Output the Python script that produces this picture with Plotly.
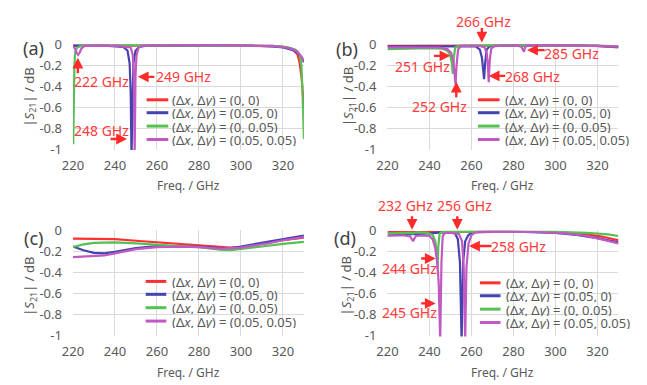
import plotly.graph_objects as go

W, H = 647, 385
FONT = "Noto Sans"
RED_TXT = "#ff3b3b"
GRAY = "#595959"

COLORS = ["#ff3030", "#4444b0", "#55c055", "#c258c2"]
SERIES = ["(Δ<i>x</i>, Δ<i>y</i>) = (0, 0)",
          "(Δ<i>x</i>, Δ<i>y</i>) = (0.05, 0)",
          "(Δ<i>x</i>, Δ<i>y</i>) = (0, 0.05)",
          "(Δ<i>x</i>, Δ<i>y</i>) = (0.05, 0.05)"]

X_TICKS = [220, 240, 260, 280, 300, 320]
Y_TICKS = [0, -0.2, -0.4, -0.6, -0.8, -1]
Y_TICK_TEXT = ["0", "-0.2", "-0.4", "-0.6", "-0.8", "-1"]
PANEL_LABELS = ["(a)", "(b)", "(c)", "(d)"]

# ---------------- panel (a) ----------------
A_RED_F = [220, 240, 260, 280, 300, 312, 318, 322, 325, 327, 328, 329, 330]
A_RED_V = [-0.015, -0.012, -0.01, -0.01, -0.012, -0.015, -0.02, -0.03, -0.05, -0.1, -0.18, -0.34, -0.6]
A_BLUE_F = [220, 235, 244, 246, 247, 247.5, 247.9, 248.3, 248.8, 249.8, 251.5, 255, 280, 305, 315, 320, 324, 327, 329, 330]
A_BLUE_V = [-0.012, -0.012, -0.025, -0.06, -0.18, -0.45, -1.05, -0.45, -0.18, -0.06, -0.025, -0.012, -0.01, -0.012, -0.02, -0.03, -0.05, -0.08, -0.13, -0.17]
A_GREEN_F = [220.15, 220.4, 220.7, 221.1, 222, 224, 240, 270, 300, 315, 322, 326, 328, 328.8, 329.3, 329.7, 330]
A_GREEN_V = [-0.95, -0.5, -0.2, -0.07, -0.03, -0.015, -0.01, -0.01, -0.01, -0.015, -0.025, -0.05, -0.1, -0.2, -0.45, -0.75, -0.9]
A_PURPLE_F = [220, 221, 221.8, 222.5, 223.2, 224, 225.5, 240, 247.5, 248.5, 249.0, 249.4, 249.8, 250.3, 251.3, 253, 280, 305, 315, 320, 324, 327, 329, 330]
A_PURPLE_V = [-0.02, -0.04, -0.08, -0.1, -0.08, -0.04, -0.015, -0.012, -0.03, -0.1, -0.3, -1.05, -0.3, -0.1, -0.03, -0.012, -0.008, -0.01, -0.015, -0.025, -0.04, -0.07, -0.12, -0.16]

# ---------------- panel (b) ----------------
B_RED_F = [220, 250, 280, 310, 320, 326, 330]
B_RED_V = [-0.015, -0.012, -0.01, -0.01, -0.015, -0.02, -0.03]
B_BLUE_F = [220, 240, 255, 262, 264, 265, 265.6, 266.0, 266.5, 267.2, 268.5, 275, 300, 320, 330]
B_BLUE_V = [-0.02, -0.018, -0.015, -0.02, -0.05, -0.13, -0.25, -0.33, -0.18, -0.05, -0.02, -0.012, -0.01, -0.015, -0.025]
B_GREEN_F = [220, 230, 240, 246, 248.5, 249.8, 250.6, 251.1, 251.6, 252.3, 254, 270, 300, 320, 330]
B_GREEN_V = [-0.045, -0.04, -0.035, -0.04, -0.06, -0.1, -0.17, -0.28, -0.12, -0.03, -0.012, -0.01, -0.01, -0.012, -0.02]
B_PURPLE_F = [220, 235, 245, 248.5, 250.3, 251.4, 252.0, 252.4, 252.9, 253.6, 255, 264, 266.3, 267.3, 267.8, 268.2, 268.7, 269.4, 271, 282, 283.8, 284.6, 285.0, 285.5, 286.5, 300, 320, 330]
B_PURPLE_V = [-0.028, -0.026, -0.03, -0.045, -0.08, -0.16, -0.27, -0.38, -0.2, -0.05, -0.015, -0.015, -0.03, -0.09, -0.2, -0.36, -0.15, -0.04, -0.015, -0.01, -0.025, -0.06, -0.07, -0.03, -0.01, -0.01, -0.012, -0.02]

# ---------------- panel (c) ----------------
C_RED_F = [220, 230, 240, 250, 260, 270, 280, 290, 295, 300, 310, 320, 330]
C_RED_V = [-0.075, -0.075, -0.08, -0.095, -0.11, -0.125, -0.14, -0.155, -0.16, -0.155, -0.12, -0.09, -0.065]
C_BLUE_F = [220, 225, 230, 235, 240, 250, 260, 270, 280, 290, 295, 300, 310, 320, 330]
C_BLUE_V = [-0.15, -0.185, -0.21, -0.215, -0.2, -0.165, -0.145, -0.145, -0.15, -0.165, -0.165, -0.15, -0.115, -0.08, -0.045]
C_GREEN_F = [220, 225, 230, 240, 250, 260, 270, 280, 290, 295, 300, 310, 320, 330]
C_GREEN_V = [-0.155, -0.13, -0.115, -0.11, -0.12, -0.135, -0.145, -0.155, -0.18, -0.185, -0.175, -0.15, -0.125, -0.105]
C_PURPLE_F = [220, 225, 230, 235, 240, 250, 260, 270, 280, 290, 300, 308, 311, 313, 320, 330]
C_PURPLE_V = [-0.25, -0.245, -0.24, -0.235, -0.215, -0.175, -0.155, -0.15, -0.155, -0.17, -0.16, -0.13, -0.125, -0.12, -0.09, -0.06]

# ---------------- panel (d) ----------------
D_RED_F = [220, 250, 280, 295, 305, 315, 322, 330]
D_RED_V = [-0.012, -0.01, -0.01, -0.012, -0.02, -0.035, -0.055, -0.09]
D_BLUE_F = [220, 230, 240, 246, 250, 252, 253.5, 254.5, 255.3, 256.0, 257.0, 258.5, 260.5, 265, 285, 300, 310, 320, 330]
D_BLUE_V = [-0.045, -0.038, -0.025, -0.015, -0.015, -0.02, -0.08, -0.3, -1.05, -0.3, -0.1, -0.04, -0.015, -0.01, -0.012, -0.02, -0.04, -0.07, -0.11]
D_GREEN_F = [220, 230, 231.4, 232, 232.6, 234, 239, 241.5, 242.8, 243.4, 243.8, 244.2, 244.8, 246, 260, 300, 315, 325, 330]
D_GREEN_V = [-0.025, -0.02, -0.02, -0.03, -0.02, -0.015, -0.02, -0.04, -0.1, -0.2, -0.36, -0.15, -0.03, -0.01, -0.008, -0.01, -0.02, -0.035, -0.05]
D_PURPLE_F = [220, 228, 230.8, 231.6, 232.2, 232.8, 233.6, 236, 240, 241.5, 242.7, 243.7, 244.4, 245.1, 245.7, 246.3, 247.5, 250, 254, 255.5, 256.3, 257.0, 257.6, 258.6, 260, 262, 270, 290, 305, 315, 322, 330]
D_PURPLE_V = [-0.045, -0.045, -0.055, -0.08, -0.1, -0.075, -0.05, -0.045, -0.05, -0.08, -0.16, -0.3, -0.5, -1.05, -0.3, -0.05, -0.02, -0.02, -0.03, -0.1, -0.35, -1.05, -0.35, -0.12, -0.04, -0.015, -0.01, -0.012, -0.025, -0.05, -0.08, -0.12]

PANELS = [
    [(A_RED_F, A_RED_V), (A_BLUE_F, A_BLUE_V), (A_GREEN_F, A_GREEN_V), (A_PURPLE_F, A_PURPLE_V)],
    [(B_RED_F, B_RED_V), (B_BLUE_F, B_BLUE_V), (B_GREEN_F, B_GREEN_V), (B_PURPLE_F, B_PURPLE_V)],
    [(C_RED_F, C_RED_V), (C_BLUE_F, C_BLUE_V), (C_GREEN_F, C_GREEN_V), (C_PURPLE_F, C_PURPLE_V)],
    [(D_RED_F, D_RED_V), (D_BLUE_F, D_BLUE_V), (D_GREEN_F, D_GREEN_V), (D_PURPLE_F, D_PURPLE_V)],
]

# resonance labels: (panel, text)
PEAK_LABELS = [
    ("a", "222 GHz"), ("a", "249 GHz"), ("a", "248 GHz"),
    ("b", "266 GHz"), ("b", "251 GHz"), ("b", "252 GHz"), ("b", "268 GHz"), ("b", "285 GHz"),
    ("d", "232 GHz"), ("d", "256 GHz"), ("d", "258 GHz"), ("d", "244 GHz"), ("d", "245 GHz"),
]
# layout (pixel) positions of label text centres and of arrows (tail -> head)
LABEL_POS = [(92, 76), (175, 71), (92, 127),
             (481, 13), (419, 60), (436, 102), (531, 71), (570, 47),
             (401, 206), (461, 206), (516, 248), (405, 272), (405, 318)]
ARROWS = [((68, 68), (68, 51)), ((147, 71), (129, 71)), ((100, 136), (118, 136)),
          ((479, 19), (479, 35)), ((429, 49), (447, 49)), ((453, 93), (453, 76)),
          ((504, 70), (486, 70)), ((544, 43), (525, 43)),
          ((408, 216), (408, 231)), ((454, 216), (454, 231)), ((490, 248), (466, 248)),
          ((416, 261), (432, 261)), ((416, 308), (432, 308))]


def px(x):
    return x / W


def py(y):
    return 1 - y / H


# plot-area pixel boxes: (left, right, top(0), bottom(-1))
BOXES = [(63, 298, 37, 147), (383, 618, 37, 147), (63, 298, 232, 342), (383, 618, 232, 342)]
LEGEND_POS = [(138, 160, 163, [95, 108.5, 122.5, 136.5]),
              (475, 497, 502, [95, 108.5, 122.5, 136.5]),
              (137, 158, 163, [285, 298.5, 312.5, 326.5]),
              (477, 498, 503, [286.5, 300, 314, 328])]
PANEL_LABEL_POS = [(23, 41), (342, 42), (23, 240), (340, 240)]
YTITLE_POS = [(19, 92), (344, 92), (20, 290), (342, 290)]
XTITLE_Y = [185, 185, 380, 380]

fig = go.Figure()
YR = [-1.005, 0.005]
pad = 0.005 * 110

for i, panel in enumerate(PANELS):
    ax = "" if i == 0 else str(i + 1)
    for (f, v), c, name in zip(panel, COLORS, SERIES):
        fig.add_trace(go.Scatter(x=f, y=v, mode="lines", name=name,
                                 line=dict(color=c, width=2.2),
                                 xaxis="x" + ax, yaxis="y" + ax, showlegend=False))
    l, r, t, b = BOXES[i]
    fig.layout["xaxis" + ax] = dict(domain=[px(l), px(r)], anchor="y" + ax, range=[220, 330],
                                   tickvals=X_TICKS, showgrid=True, gridcolor="#d9d9d9", gridwidth=1,
                                   zeroline=False, showline=False, ticks="", ticklabelstandoff=6,
                                   tickfont=dict(family=FONT, size=13, color=GRAY))
    fig.layout["yaxis" + ax] = dict(domain=[py(b + pad), py(t - pad)], anchor="x" + ax, range=YR,
                                   tickvals=Y_TICKS, ticktext=Y_TICK_TEXT, showgrid=True,
                                   gridcolor="#d9d9d9", gridwidth=1, zeroline=False, showline=False,
                                   ticks="", ticklabelstandoff=10,
                                   tickfont=dict(family=FONT, size=13, color=GRAY))

annotations = []
shapes = []
for i in range(4):
    l, r, t, b = BOXES[i]
    x0, x1, tx, rows = LEGEND_POS[i]
    for c, name, ry in zip(COLORS, SERIES, rows):
        shapes.append(dict(type="line", xref="paper", yref="paper", x0=px(x0), x1=px(x1),
                           y0=py(ry), y1=py(ry), line=dict(color=c, width=3)))
        annotations.append(dict(xref="paper", yref="paper", x=px(tx), y=py(ry), text=name,
                                showarrow=False, xanchor="left", yanchor="middle",
                                height=13, borderpad=0,
                                font=dict(family=FONT, size=13, color=GRAY)))
    lx, ly = PANEL_LABEL_POS[i]
    annotations.append(dict(xref="paper", yref="paper", x=px(lx), y=py(ly), text=PANEL_LABELS[i],
                            showarrow=False, xanchor="center", yanchor="middle",
                            font=dict(family=FONT, size=18, color="#404040")))
    yx, yy = YTITLE_POS[i]
    annotations.append(dict(xref="paper", yref="paper", x=px(yx), y=py(yy),
                            text="|<i>S</i><sub>21</sub>| / dB", textangle=-90, showarrow=False,
                            xanchor="center", yanchor="middle",
                            font=dict(family=FONT, size=13, color=GRAY)))
    annotations.append(dict(xref="paper", yref="paper", x=px((l + r) / 2), y=py(XTITLE_Y[i]),
                            text="Freq. / GHz", showarrow=False, xanchor="center", yanchor="middle",
                            font=dict(family=FONT, size=12, color=GRAY)))

for (panel, text), (cx, cy) in zip(PEAK_LABELS, LABEL_POS):
    annotations.append(dict(xref="paper", yref="paper", x=px(cx), y=py(cy), text=text,
                            showarrow=False, xanchor="center", yanchor="middle",
                            font=dict(family=FONT, size=14, color=RED_TXT)))
for (tail, head) in ARROWS:
    annotations.append(dict(xref="paper", yref="paper", x=px(head[0]), y=py(head[1]), text="",
                            showarrow=True, ax=tail[0] - head[0], ay=tail[1] - head[1],
                            arrowhead=2, arrowsize=0.9, arrowwidth=2.4, arrowcolor="#ff2a2a",
                            standoff=0, startstandoff=0))

fig.update_layout(width=W, height=H, margin=dict(l=0, r=0, t=0, b=0),
                  paper_bgcolor="white", plot_bgcolor="white",
                  annotations=annotations, shapes=shapes, showlegend=False)

fig.write_html("out.html")
